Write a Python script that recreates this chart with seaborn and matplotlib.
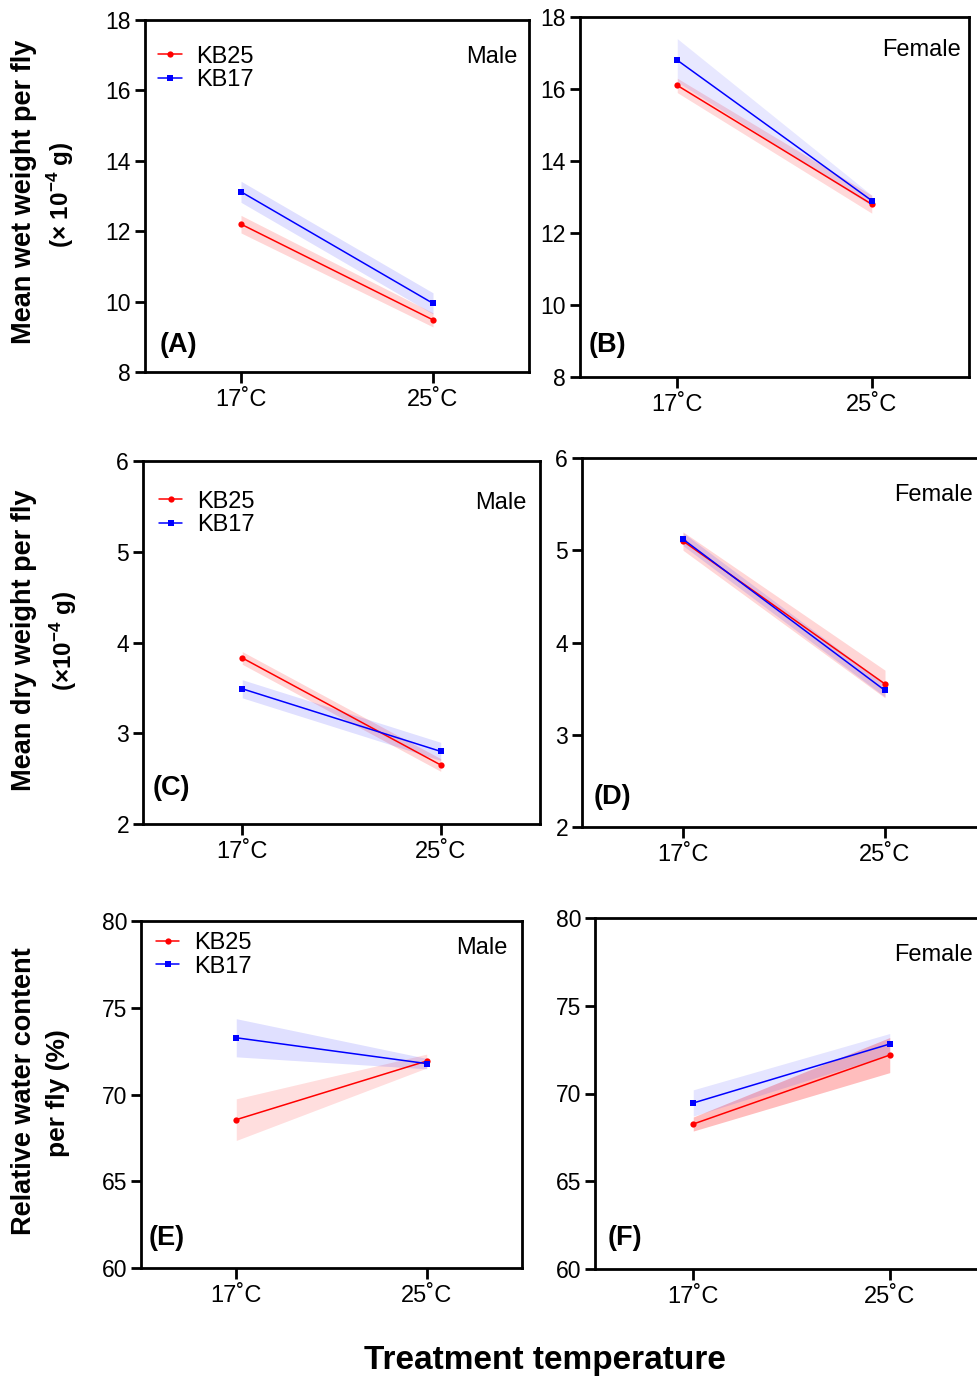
import matplotlib
matplotlib.use("Agg")
import numpy as np
import pandas as pd
import matplotlib.pyplot as plt
import seaborn as sns

# x categories and strains
temps = ["17˚C", "25˚C"]
strains = ["KB25", "KB17"]

# means at 17 / 25 C, and half-width of the shaded band
wet_male_kb25 = [12.2, 9.48]
wet_male_kb25_ci = [0.25, 0.2]
wet_male_kb17 = [13.12, 9.95]
wet_male_kb17_ci = [0.3, 0.3]

wet_female_kb25 = [16.1, 12.8]
wet_female_kb25_ci = [0.2, 0.25]
wet_female_kb17 = [16.8, 12.9]
wet_female_kb17_ci = [0.6, 0.15]

dry_male_kb25 = [3.83, 2.65]
dry_male_kb25_ci = [0.07, 0.07]
dry_male_kb17 = [3.49, 2.80]
dry_male_kb17_ci = [0.1, 0.1]

dry_female_kb25 = [5.10, 3.55]
dry_female_kb25_ci = [0.1, 0.15]
dry_female_kb17 = [5.12, 3.48]
dry_female_kb17_ci = [0.07, 0.07]

water_male_kb25 = [68.55, 71.93]
water_male_kb25_ci = [1.2, 0.4]
water_male_kb17 = [73.27, 71.78]
water_male_kb17_ci = [1.1, 0.3]

water_female_kb25 = [68.26, 72.19]
water_female_kb25_ci = [0.4, 1.0]
water_female_kb17 = [69.46, 72.82]
water_female_kb17_ci = [0.75, 0.6]

colors = {"KB25": "#ff0000", "KB17": "#0000ff"}
markers = {"KB25": "o", "KB17": "s"}

sns.set_style("ticks", {"axes.edgecolor": "black", "xtick.color": "black",
                        "ytick.color": "black", "text.color": "black"})
plt.rcParams["font.family"] = ["Liberation Sans", "DejaVu Sans"]
plt.rcParams["mathtext.fontset"] = "custom"
plt.rcParams["mathtext.rm"] = "Liberation Sans"
plt.rcParams["mathtext.bf"] = "Liberation Sans:bold"

W, H = 977, 1377
fig = plt.figure(figsize=(W / 100, H / 100), dpi=100)


def add_axes(left, top, right, bottom):
    return fig.add_axes([left / W, 1 - bottom / H, (right - left) / W, (bottom - top) / H])


def draw(ax, kb25, kb25_ci, kb17, kb17_ci, yticks, letter, letter_pos, sex, sex_pos,
         legend_pos=None, alphas=(0.16, 0.12)):
    records = []
    for strain, m, c in [("KB25", kb25, kb25_ci), ("KB17", kb17, kb17_ci)]:
        for t, mv, cv in zip(temps, m, c):
            for v in (mv - cv, mv, mv + cv):
                records.append({"temp": t, "strain": strain, "value": v})
    df = pd.DataFrame(records)
    sns.lineplot(data=df, x="temp", y="value", hue="strain", style="strain",
                 hue_order=strains, style_order=strains, palette=colors,
                 markers=markers, dashes=False, estimator="median",
                 errorbar=lambda v: (v.min(), v.max()),
                 err_kws={"linewidth": 0},
                 linewidth=1.1, markersize=4.5, markeredgewidth=0,
                 sort=False, legend=legend_pos is not None, ax=ax)
    # band transparency per strain
    for coll, a in zip(ax.collections, alphas):
        coll.set_alpha(a)
    ax.set_xlim(-0.5, 1.5)
    ax.set_ylim(yticks[0], yticks[-1])
    ax.set_yticks(yticks)
    ax.set_xlabel("")
    ax.set_ylabel("")
    ax.tick_params(axis="y", labelsize=16.5, length=7, width=2, pad=3)
    ax.tick_params(axis="x", labelsize=17, length=8, width=2, pad=4)
    for s in ax.spines.values():
        s.set_linewidth(2)
    ax.text(letter_pos[0], letter_pos[1], letter, transform=ax.transAxes,
            fontsize=19.5, fontweight="bold", ha="left", va="center")
    ax.text(sex_pos[0], sex_pos[1], sex, transform=ax.transAxes,
            fontsize=17, ha="right", va="center")
    if legend_pos is not None:
        sns.move_legend(ax, "center left", bbox_to_anchor=legend_pos, title=None,
                        frameon=False, fontsize=17, handlelength=1.0,
                        handletextpad=0.6, labelspacing=0.05, borderpad=0,
                        borderaxespad=0)


axA = add_axes(145, 20, 529, 372)
draw(axA, wet_male_kb25, wet_male_kb25_ci, wet_male_kb17, wet_male_kb17_ci,
     [8, 10, 12, 14, 16, 18], "(A)", (0.037, 0.077), "Male", (0.969, 0.895),
     legend_pos=(0.035, 0.863))
axB = add_axes(580, 17, 969, 377)
draw(axB, wet_female_kb25, wet_female_kb25_ci, wet_female_kb17, wet_female_kb17_ci,
     [8, 10, 12, 14, 16, 18], "(B)", (0.021, 0.089), "Female", (0.979, 0.908),
     alphas=(0.15, 0.09))

axC = add_axes(143, 461, 540, 824)
draw(axC, dry_male_kb25, dry_male_kb25_ci, dry_male_kb17, dry_male_kb17_ci,
     [2, 3, 4, 5, 6], "(C)", (0.023, 0.099), "Male", (0.967, 0.884),
     legend_pos=(0.04, 0.856))
axD = add_axes(582, 458, 986, 827)
draw(axD, dry_female_kb25, dry_female_kb25_ci, dry_female_kb17, dry_female_kb17_ci,
     [2, 3, 4, 5, 6], "(D)", (0.028, 0.081), "Female", (0.968, 0.90))

axE = add_axes(141, 921, 522, 1268)
draw(axE, water_male_kb25, water_male_kb25_ci, water_male_kb17, water_male_kb17_ci,
     [60, 65, 70, 75, 80], "(E)", (0.019, 0.086), "Male", (0.961, 0.922),
     legend_pos=(0.039, 0.902), alphas=(0.13, 0.12))
axF = add_axes(595, 918, 988, 1269)
draw(axF, water_female_kb25, water_female_kb25_ci, water_female_kb17, water_female_kb17_ci,
     [60, 65, 70, 75, 80], "(F)", (0.031, 0.088), "Female", (0.962, 0.895),
     alphas=(0.26, 0.1))

# row labels
lab = dict(rotation=90, fontweight="bold", ha="center", va="center")
fig.text(24 / W, 1 - 192 / H, "Mean wet weight per fly", fontsize=19.5, **lab)
fig.text(61 / W, 1 - 195 / H, r"(× 10$^{\mathbf{-4}}$ g)", fontsize=17.5, **lab)
fig.text(24 / W, 1 - 640 / H, "Mean dry weight per fly", fontsize=19.5, **lab)
fig.text(64 / W, 1 - 641 / H, r"(×10$^{\mathbf{-4}}$ g)", fontsize=17.5, **lab)
fig.text(24 / W, 1 - 1091 / H, "Relative water content", fontsize=19.5, **lab)
fig.text(58 / W, 1 - 1093 / H, "per fly (%)", fontsize=19, **lab)

fig.text(545 / W, 1 - 1360 / H, "Treatment temperature", fontsize=24,
         fontweight="bold", ha="center", va="center")

fig.savefig("out.png", dpi=100)
